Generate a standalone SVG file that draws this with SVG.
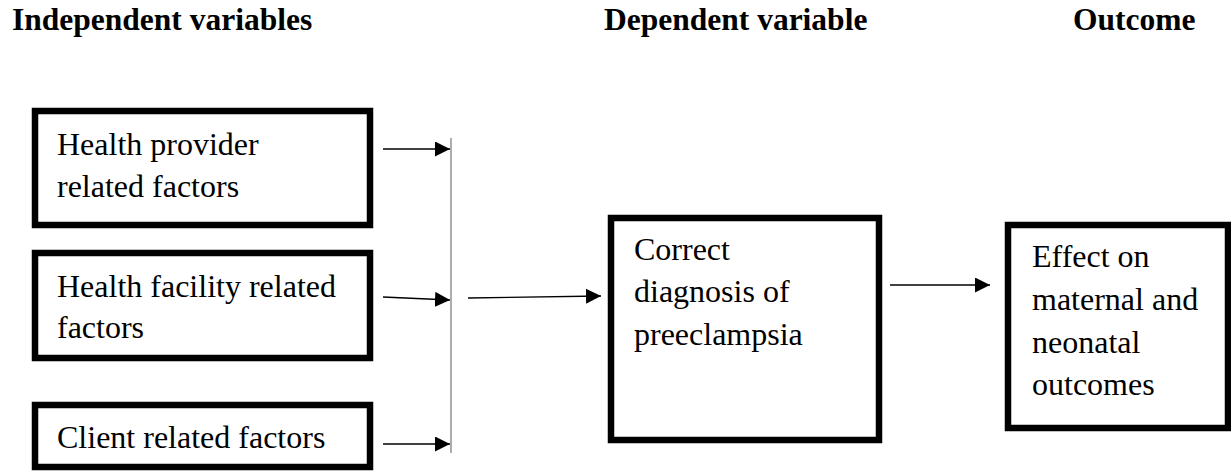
<svg xmlns="http://www.w3.org/2000/svg" width="1231" height="471" viewBox="0 0 1231 471">
<defs>
<style>
.box{fill:#fff;stroke:#000;stroke-width:6.5}
.t{font-family:"Liberation Serif","Times New Roman",serif;font-size:32px;fill:#000}
.h{font-family:"Liberation Serif","Times New Roman",serif;font-size:31.5px;font-weight:bold;fill:#000}
.c{stroke:#000;stroke-width:1.3;fill:none}
</style>
<marker id="ah" markerUnits="userSpaceOnUse" markerWidth="16" markerHeight="16" refX="15" refY="7.5" orient="auto">
<path d="M0,0 L15,7.5 L0,15 Z" fill="#000"/>
</marker>
</defs>
<rect width="1231" height="471" fill="#fff"/>
<g id="headers">
<text class="h" x="12" y="30">Independent variables</text>
<text class="h" x="604" y="30">Dependent variable</text>
<text class="h" x="1073" y="30">Outcome</text>
</g>
<g id="n-provider">
<rect class="box" x="35" y="111" width="335" height="114"/>
<text class="t" x="57" y="155">Health provider</text>
<text class="t" x="57" y="197">related factors</text>
</g>
<g id="n-facility">
<rect class="box" x="35" y="253" width="335" height="105"/>
<text class="t" x="57" y="297">Health facility related</text>
<text class="t" x="57" y="338">factors</text>
</g>
<g id="n-client">
<rect class="box" x="35" y="405" width="335" height="62"/>
<text class="t" x="57" y="448">Client related factors</text>
</g>
<g id="n-diagnosis">
<rect class="box" x="611" y="218" width="268" height="222"/>
<text class="t" x="634" y="260">Correct</text>
<text class="t" x="634" y="302">diagnosis of</text>
<text class="t" x="634" y="345">preeclampsia</text>
</g>
<g id="n-outcome">
<rect class="box" x="1008" y="225" width="220" height="203"/>
<text class="t" x="1032" y="267">Effect on</text>
<text class="t" x="1032" y="310">maternal and</text>
<text class="t" x="1032" y="353">neonatal</text>
<text class="t" x="1032" y="395">outcomes</text>
</g>
<g id="connectors">
<line x1="451" y1="138" x2="451" y2="453" stroke="#808080" stroke-width="1.3"/>
<line class="c" x1="383" y1="149" x2="450" y2="149" marker-end="url(#ah)"/>
<line class="c" x1="383" y1="297" x2="450" y2="300" marker-end="url(#ah)"/>
<line class="c" x1="383" y1="444" x2="450" y2="444" marker-end="url(#ah)"/>
<line class="c" x1="468" y1="298" x2="601" y2="296" marker-end="url(#ah)"/>
<line class="c" x1="890" y1="285" x2="990" y2="285" marker-end="url(#ah)"/>
</g>
</svg>
